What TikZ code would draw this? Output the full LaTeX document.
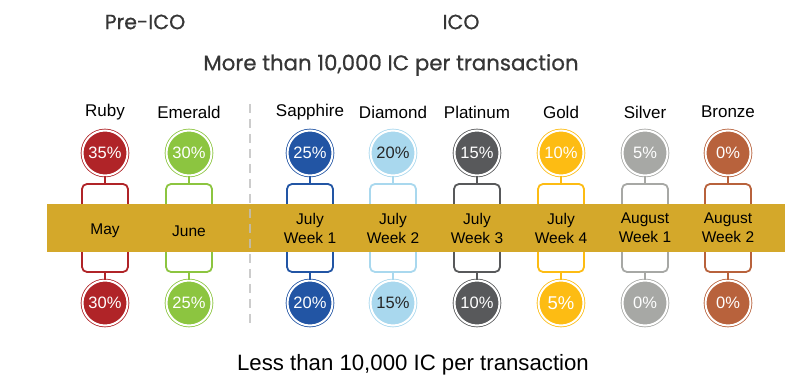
\documentclass[tikz,border=0pt]{standalone}
\usepackage{fontspec}
\setmainfont{Liberation Sans}
\newfontfamily\headfont[FakeBold=0.7]{Poppins}
\usepackage{xcolor}
\usepackage{tikz}

\definecolor{rubyc}{HTML}{B02428}
\definecolor{emeraldc}{HTML}{8CC540}
\definecolor{sapphirec}{HTML}{2255A4}
\definecolor{diamondc}{HTML}{A9D8EE}
\definecolor{platinumc}{HTML}{58595B}
\definecolor{goldc}{HTML}{FDBC13}
\definecolor{silverc}{HTML}{A7A8A5}
\definecolor{bronzec}{HTML}{B8623C}
\definecolor{bandc}{HTML}{D4A82A}
\definecolor{headc}{HTML}{363636}

\begin{document}
\begin{tikzpicture}[x=1pt,y=1pt,
  tier/.style={font=\fontsize{17}{20}\selectfont},
  pct/.style={circle,fill=#1,draw=#1,double=white,double distance=2pt,line width=0.8pt,
    minimum size=45pt,inner sep=0pt,text=white,font=\fontsize{16.5}{19}\selectfont},
  slot/.style={draw=#1,line width=1.8pt,rounded corners=5pt,minimum width=46pt,minimum height=88pt},
  month/.style={align=center,font=\fontsize{15.5}{19}\selectfont},
  head/.style={text=headc,font=\headfont\fontsize{20.5}{24}\selectfont}]
\useasboundingbox (0,0) rectangle (806,382);

% headings
\node[head] (preico) at (145,360) {Pre-ICO};
\node[head] (ico) at (461,360) {ICO};
\node[head,font=\headfont\fontsize{21.3}{24}\selectfont] (more) at (391,317) {More than 10,000 IC per transaction};
\node[font=\fontsize{22.2}{25}\selectfont] (less) at (413,17) {Less than 10,000 IC per transaction};

% tier names
\node[tier] (ruby) at (105,270) {Ruby};
\node[tier] (emerald) at (189,270) {Emerald};
\node[tier] (sapphire) at (310,270) {Sapphire};
\node[tier] (diamond) at (393,270) {Diamond};
\node[tier] (platinum) at (477,270) {Platinum};
\node[tier] (gold) at (561,270) {Gold};
\node[tier] (silver) at (645,270) {Silver};
\node[tier] (bronze) at (728,270) {Bronze};

% boxes behind the band
\node[slot=rubyc] (rubybox) at (105,154) {};
\node[slot=emeraldc] (emeraldbox) at (189,154) {};
\node[slot=sapphirec] (sapphirebox) at (310,154) {};
\node[slot=diamondc] (diamondbox) at (393,154) {};
\node[slot=platinumc] (platinumbox) at (477,154) {};
\node[slot=goldc] (goldbox) at (561,154) {};
\node[slot=silverc] (silverbox) at (645,154) {};
\node[slot=bronzec] (bronzebox) at (728,154) {};

% top circles
\node[pct=rubyc] (rubytop) at (105,229) {35\%};
\node[pct=emeraldc] (emeraldtop) at (189,229) {30\%};
\node[pct=sapphirec] (sapphiretop) at (310,229) {25\%};
\node[pct=diamondc,text=black!85] (diamondtop) at (393,229) {20\%};
\node[pct=platinumc] (platinumtop) at (477,229) {15\%};
\node[pct=goldc] (goldtop) at (561,229) {10\%};
\node[pct=silverc] (silvertop) at (645,229) {5\%};
\node[pct=bronzec] (bronzetop) at (728,229) {0\%};

% bottom circles
\node[pct=rubyc] (rubybot) at (105,79) {30\%};
\node[pct=emeraldc] (emeraldbot) at (189,79) {25\%};
\node[pct=sapphirec] (sapphirebot) at (310,79) {20\%};
\node[pct=diamondc,text=black!85] (diamondbot) at (393,79) {15\%};
\node[pct=platinumc] (platinumbot) at (477,79) {10\%};
\node[pct=goldc,font=\fontsize{18.5}{21}\selectfont] (goldbot) at (561,79) {5\%};
\node[pct=silverc] (silverbot) at (645,79) {0\%};
\node[pct=bronzec] (bronzebot) at (728,79) {0\%};

% links
\draw[rubyc,line width=1.5pt] (rubytop)--(rubybox) (rubybox)--(rubybot);
\draw[emeraldc,line width=1.5pt] (emeraldtop)--(emeraldbox) (emeraldbox)--(emeraldbot);
\draw[sapphirec,line width=1.5pt] (sapphiretop)--(sapphirebox) (sapphirebox)--(sapphirebot);
\draw[diamondc,line width=1.5pt] (diamondtop)--(diamondbox) (diamondbox)--(diamondbot);
\draw[platinumc,line width=1.5pt] (platinumtop)--(platinumbox) (platinumbox)--(platinumbot);
\draw[goldc,line width=1.5pt] (goldtop)--(goldbox) (goldbox)--(goldbot);
\draw[silverc,line width=1.5pt] (silvertop)--(silverbox) (silverbox)--(silverbot);
\draw[bronzec,line width=1.5pt] (bronzetop)--(bronzebox) (bronzebox)--(bronzebot);

% band
\fill[bandc] (47,130) rectangle (785,178);
\draw[gray!50,opacity=0.8,line width=1.5pt,dash pattern=on 9pt off 6pt] (250,278)--(250,55);

% months
\node[month,yshift=-3pt] (may) at (rubybox) {May};
\node[month,yshift=-3pt] (june) at (emeraldbox) {June};
\node[month] (jw1) at (sapphirebox) {July\\Week 1};
\node[month] (jw2) at (diamondbox) {July\\Week 2};
\node[month] (jw3) at (platinumbox) {July\\Week 3};
\node[month] (jw4) at (goldbox) {July\\Week 4};
\node[month] (aw1) at (silverbox) {August\\Week 1};
\node[month] (aw2) at (bronzebox) {August\\Week 2};
\end{tikzpicture}
\end{document}
